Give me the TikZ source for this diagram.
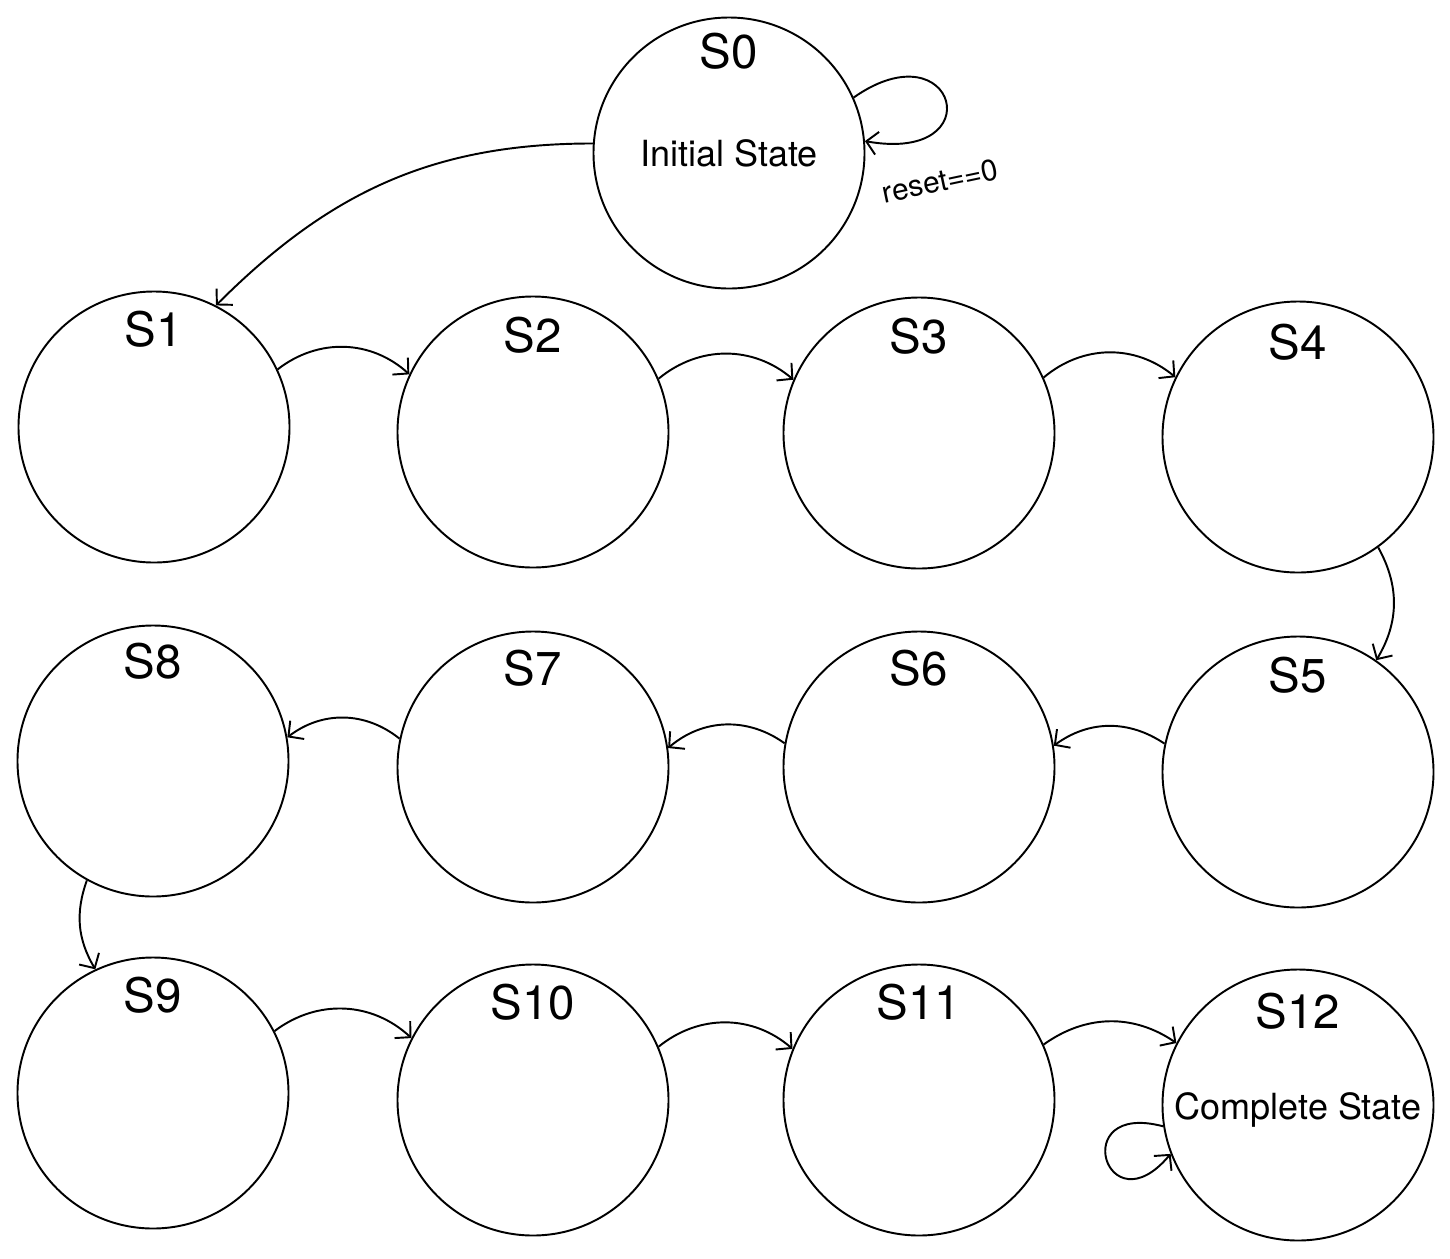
\documentclass[tikz,border=0pt]{standalone}
\usepackage{fontspec}
\setmainfont{TeX Gyre Heros}
\usetikzlibrary{arrows.meta}

\begin{document}
\begin{tikzpicture}[
    state/.style={draw, circle, line width=1.1pt, minimum size=5.42cm, inner sep=0pt,
      font=\fontsize{20.5}{24}\selectfont},
    statelabel/.style={inner sep=0pt, font=\fontsize{27}{32}\selectfont},
    trans/.style={line width=1.1pt, -{Straight Barb[length=2.2mm,width=4.6mm]}},
    guard/.style={inner sep=0pt, rotate=12, font=\fontsize{17}{20}\selectfont}
  ]
      % Page size
      \useasboundingbox (0,0) rectangle (29,-25.16);

      % Start state
      \node[state] (S0) at (14.58,-3.06) {Initial State};

      % First row
      \node[state] (S1) at (3.08,-8.54) {};
      \node[state] (S2) at (10.66,-8.64) {};
      \node[state] (S3) at (18.38,-8.66) {};
      \node[state] (S4) at (25.96,-8.74) {};

      % Second row
      \node[state] (S5) at (25.96,-15.44) {};
      \node[state] (S6) at (18.38,-15.34) {};
      \node[state] (S7) at (10.66,-15.34) {};
      \node[state] (S8) at (3.06,-15.22) {};

      % Third row
      \node[state] (S9) at (3.06,-21.86) {};
      \node[state] (S10) at (10.66,-22.0) {};
      \node[state] (S11) at (18.38,-22.0) {};
      \node[state] (S12) at (25.96,-22.1) {};
      \node[font=\fontsize{20.5}{24}\selectfont, inner sep=0pt] (T12) at ([yshift=-0.1cm]S12.center) {Complete State};

      % State names
      \node[statelabel] (L0) at ([yshift=-0.69cm]S0.north) {S0};
      \node[statelabel] (L1) at ([yshift=-0.77cm]S1.north) {S1};
      \node[statelabel] (L2) at ([yshift=-0.80cm]S2.north) {S2};
      \node[statelabel] (L3) at ([yshift=-0.79cm]S3.north) {S3};
      \node[statelabel] (L4) at ([yshift=-0.83cm]S4.north) {S4};
      \node[statelabel] (L5) at ([yshift=-0.79cm]S5.north) {S5};
      \node[statelabel] (L6) at ([yshift=-0.75cm]S6.north) {S6};
      \node[statelabel] (L7) at ([yshift=-0.75cm]S7.north) {S7};
      \node[statelabel] (L8) at ([yshift=-0.73cm]S8.north) {S8};
      \node[statelabel] (L9) at ([yshift=-0.77cm]S9.north) {S9};
      \node[statelabel] (L10) at ([yshift=-0.77cm]S10.north) {S10};
      \node[statelabel] (L11) at ([yshift=-0.77cm]S11.north) {S11};
      \node[statelabel] (L12) at ([yshift=-0.85cm]S12.north) {S12};

      % Guard
      \node[guard] (G0) at (18.8,-3.62) {reset==0};

      % Transitions
      \draw[trans] (S0.176) to[out=180,in=45] (S1.63);
      \draw[trans] (S1.25) to[bend left=40] (S2.155);
      \draw[trans] (S2.23) to[bend left=40] (S3.157);
      \draw[trans] (S3.24) to[bend left=40] (S4.154);
      \draw[trans] (S4.-54) to[bend left=30] (S5.55);
      \draw[trans] (S5.168) to[bend right=35] (S6.9);
      \draw[trans] (S6.170) to[bend right=38] (S7.8);
      \draw[trans] (S7.168) to[bend right=38] (S8.10);
      \draw[trans] (S8.241) to[bend right=25] (S9.115);
      \draw[trans] (S9.27) to[bend left=40] (S10.153);
      \draw[trans] (S10.23) to[bend left=40] (S11.158);
      \draw[trans] (S11.24) to[bend left=35] (S12.153);

      % Self loops
      \draw[trans] (S0.24) .. controls +(35:2.5) and +(-10:2.6) .. (S0.5);
      \draw[trans] (S12.189) .. controls +(165:2) and +(-130:2) .. (S12.201);

\end{tikzpicture}
\end{document}
